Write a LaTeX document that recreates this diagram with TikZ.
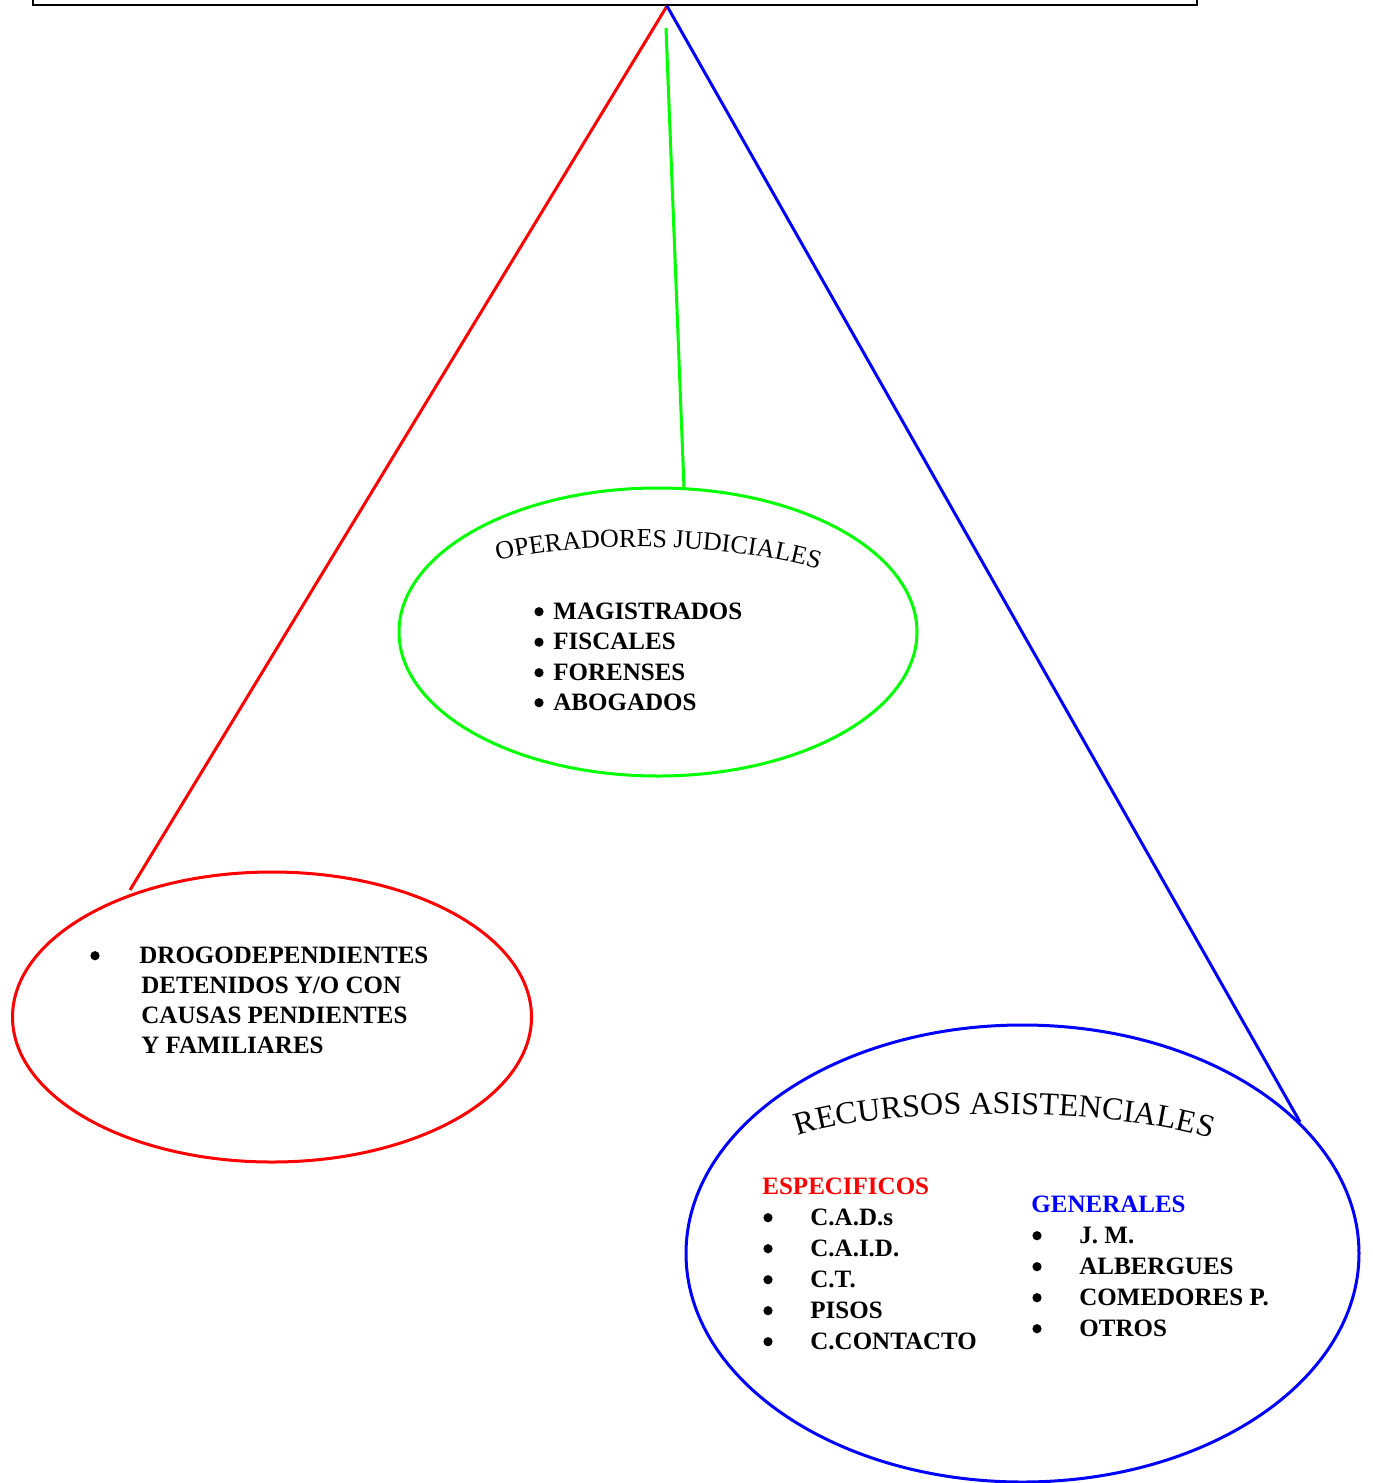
\documentclass[tikz,border=0pt]{standalone}
\usepackage{fontspec}
\setmainfont{Liberation Serif}
\usetikzlibrary{shapes.geometric,decorations.text}
\newcommand\arcfontA{\fontsize{13}{15}\selectfont}
\newcommand\arcfontB{\fontsize{16}{19}\selectfont}
\begin{document}
\begin{tikzpicture}[x=0.5pt,y=-0.5pt,
  item/.style={font=\fontsize{12.5}{15}\selectfont\bfseries, anchor=base west, inner sep=0pt},
  bul/.style={circle, fill=black, inner sep=0pt, minimum size=4.6pt, yshift=3.65pt},
  oval/.style={ellipse, draw, line width=1.5pt, inner sep=0pt},
  conn/.style={line width=1.5pt}]
\useasboundingbox (0,0) rectangle (1372,1483);
% top box
\node[draw, line width=1pt, minimum width=582pt, minimum height=15pt, inner sep=0pt] (top) at (615,-10) {};
\coordinate (apex) at (667,6);
\coordinate (gtop) at (666,28);
% ellipses
\node[oval, draw=green, minimum width=259pt, minimum height=144pt] (judi) at (658,632) {};
\node[oval, draw=red, minimum width=259.5pt, minimum height=145pt] (drog) at (272,1017) {};
\node[oval, draw=blue, minimum width=336.5pt, minimum height=228.5pt] (recu) at (1022.5,1253.5) {};
\coordinate (rend) at (130,890);
\coordinate (gend) at (684,488);
\coordinate (bend) at (1300,1122);
% connectors
\draw[conn, red] (apex) -- (rend);
\draw[conn, green] (gtop) -- (gend);
\draw[conn, blue] (apex) -- (bend);
% arched titles
\path[decorate, decoration={text along path, text={|\arcfontA|OPERADORES JUDICIALES}, text align=center}]
  (490,563) .. controls (580,538) and (740,543) .. (826,572);
\path[decorate, decoration={text along path, text={|\arcfontB|RECURSOS ASISTENCIALES}, text align=center}]
  (797,1136) .. controls (880,1106) and (1110,1106) .. (1212,1139);
% green list
\foreach \t/\y [count=\i] in {MAGISTRADOS/619, FISCALES/649.5, FORENSES/680, ABOGADOS/710} {
  \node[bul] (gb\i) at (539,\y) {};
  \node[item] (gi\i) at (553,\y) {\t};
}
% red list
\node[bul] (rb1) at (95,963) {};
\node[item] (ri1) at (139,963) {DROGODEPENDIENTES};
\node[item] (ri2) at (141,993) {DETENIDOS Y/O CON};
\node[item] (ri3) at (141,1023) {CAUSAS PENDIENTES};
\node[item] (ri4) at (141,1053) {Y FAMILIARES};
% blue lists
\node[item, text=red] (esp) at (762,1194) {ESPECIFICOS};
\foreach \t/\y [count=\i] in {C.A.D.s/1225, C.A.I.D./1256, C.T./1287, PISOS/1318, C.CONTACTO/1349} {
  \node[bul] (eb\i) at (768,\y) {};
  \node[item] (ei\i) at (810,\y) {\t};
}
\node[item, text=blue] (gen) at (1031,1212) {GENERALES};
\foreach \t/\y [count=\i] in {J. M./1243, ALBERGUES/1274, COMEDORES P./1305, OTROS/1336} {
  \node[bul] (nb\i) at (1037,\y) {};
  \node[item] (ni\i) at (1079,\y) {\t};
}
\end{tikzpicture}
\end{document}
